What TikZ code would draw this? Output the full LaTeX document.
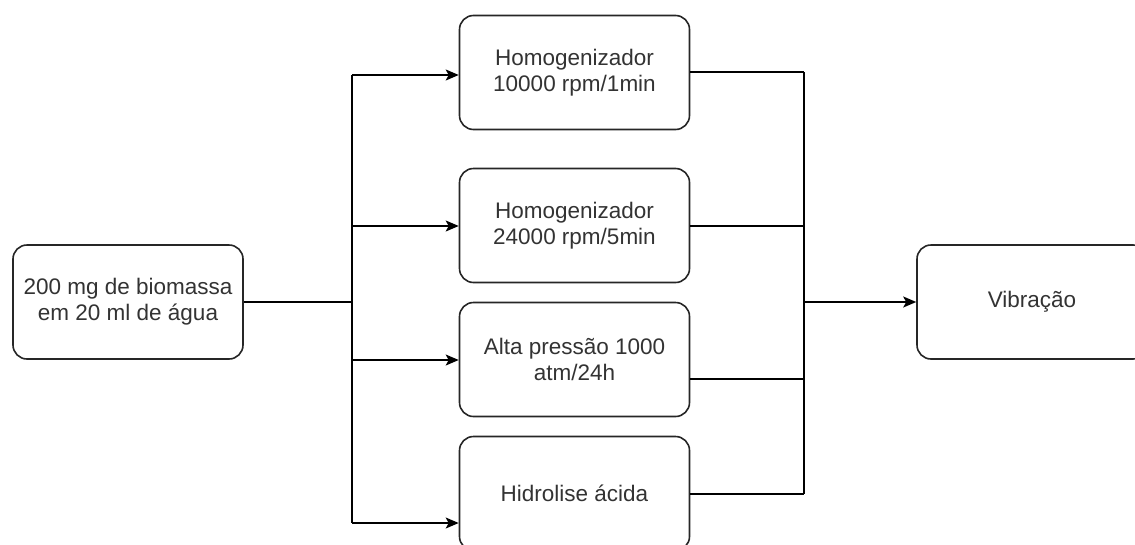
\documentclass[tikz,border=0pt]{standalone}
\usepackage{fontspec}
\setmainfont{Liberation Sans}
\usetikzlibrary{arrows.meta}
\definecolor{txt}{HTML}{333333}
\begin{document}
\begin{tikzpicture}[x=1pt,y=-1pt,
  box/.style={draw=black!85, line width=1.6pt, rounded corners=14pt, fill=white,
    minimum width=230pt, minimum height=114pt, align=center, text=txt,
    font=\fontsize{22.5pt}{26pt}\selectfont, inner sep=0pt},
  conn/.style={line width=1.6pt, draw=black},
  arr/.style={conn, -{Stealth[length=13pt,width=11pt,inset=3pt]}}]
\clip (0,0) rectangle (1135,544);
\fill[white] (0,0) rectangle (1135,544);
\node[box] (src) at (128,302) {200 mg de biomassa\\em 20 ml de água};
\node[box] (h1) at (574.5,72.5) {Homogenizador\\10000 rpm/1min};
\node[box] (h2) at (574.5,225.5) {Homogenizador\\24000 rpm/5min};
\node[box] (ap) at (574.5,359.5) {Alta pressão 1000\\atm/24h};
\node[box] (ha) at (574.5,493.5) {Hidrolise ácida};
\node[box] (vb) at (1032,302) {Vibração};
\coordinate (jl) at (352,302);
\coordinate (b1) at (352,75);
\coordinate (b2) at (352,226);
\coordinate (b3) at (352,360);
\coordinate (b4) at (352,523);
\coordinate (jr) at (804,302);
\coordinate (r1) at (804,72);
\coordinate (r2) at (804,226);
\coordinate (r3) at (804,379);
\coordinate (r4) at (804,494);
\draw[conn] (src.east |- jl) -- (jl);
\draw[conn] (b1) -- (b4);
\draw[arr] (b1) -- (b1 -| h1.west);
\draw[arr] (b2) -- (b2 -| h2.west);
\draw[arr] (b3) -- (b3 -| ap.west);
\draw[arr] (b4) -- (b4 -| ha.west);
\draw[conn] (r1 -| h1.east) -- (r1);
\draw[conn] (r2 -| h2.east) -- (r2);
\draw[conn] (r3 -| ap.east) -- (r3);
\draw[conn] (r4 -| ha.east) -- (r4);
\draw[conn] (r1) -- (r4);
\draw[arr] (jr) -- (jr -| vb.west);
\end{tikzpicture}
\end{document}
